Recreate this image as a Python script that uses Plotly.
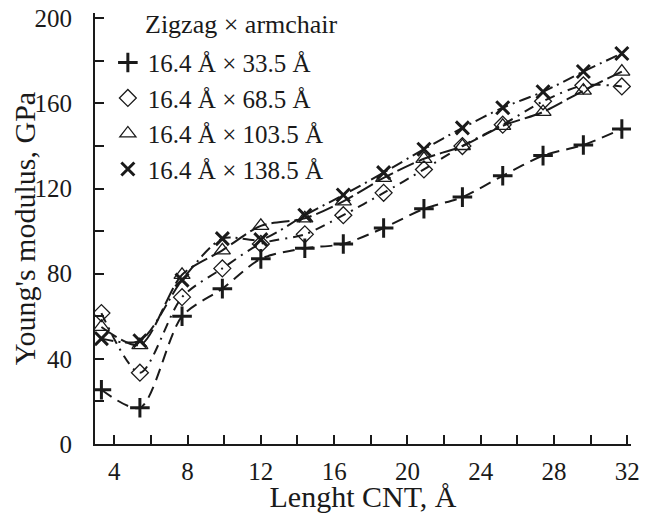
import plotly.graph_objects as go

# Length of CNT, Angstrom
length = [3.3, 5.4, 7.7, 9.9, 12.0, 14.4, 16.5, 18.7, 20.9, 23.0, 25.2, 27.4, 29.6, 31.7]

# Young's modulus, GPa
e_335 = [25.5, 17, 60, 73, 87, 92, 94, 101.5, 110.5, 116, 126, 135.5, 140.5, 148]
e_685 = [61.5, 33.5, 69, 82.5, 94, 98.5, 107.5, 118, 129, 140, 150, 161, 168.5, 168]
e_1035 = [55, 46.5, 79.5, 91, 102.5, 106, 114, 125, 134, 140, 149.5, 156, 166, 175]
e_1385 = [49.5, 48.5, 77, 96.5, 96, 107.5, 117, 127.5, 138.5, 148.5, 158, 165.5, 175, 183.5]

names = ["16.4 Å × 33.5 Å", "16.4 Å × 68.5 Å", "16.4 Å × 103.5 Å", "16.4 Å × 138.5 Å"]

x_ticks = [4, 8, 12, 16, 20, 24, 28, 32]
y_ticks = [0, 40, 80, 120, 160, 200]

FONT = "Liberation Serif, Times New Roman, serif"
INK = "#1a1a1a"
FS = 25

styles = [
    # symbol, size, marker line width, dash
    ("cross-thin", 14, 3, "12px,7px"),
    ("diamond-open", 13, 1.3, "10px,6px,2px,6px"),
    ("triangle-up-open", 14, 1.3, "18px,5px"),
    ("x-thin", 13, 3, "12px,5px,2px,5px"),
]

fig = go.Figure()
for i, (vals, name, st) in enumerate(zip([e_335, e_685, e_1035, e_1385], names, styles)):
    sym, size, lw, dash = st
    marker = dict(symbol=sym, size=size, color=INK, line=dict(color=INK, width=lw))
    fig.add_trace(go.Scatter(
        x=length, y=vals, name=name, mode="lines+markers",
        line=dict(color=INK, width=2, dash=dash, shape="spline", smoothing=0.8),
        marker=marker, showlegend=False,
    ))
    # legend entry shows the marker only
    fig.add_trace(go.Scatter(
        x=[None], y=[None], name=name, mode="markers",
        legendgroup=f"g{i}", marker=marker,
    ))

fig.add_annotation(
    text="Zigzag × armchair", xref="paper", yref="paper",
    x=0.09, y=0.973, xanchor="left", yanchor="middle",
    showarrow=False, font=dict(family=FONT, size=26, color=INK),
)

axis_common = dict(
    showline=True, linecolor=INK, linewidth=2, mirror=False,
    ticks="inside", ticklen=9, tickwidth=1.5, tickcolor=INK,
    showgrid=False, zeroline=False, automargin=False,
    ticklabeloverflow="allow",
    tickfont=dict(family=FONT, size=FS, color=INK),
)

# the page body adds an 8px offset, so the figure is 8px smaller
fig.update_layout(
    width=645, height=505,
    margin=dict(l=87, r=22, t=5, b=69),
    paper_bgcolor="white", plot_bgcolor="white",
    font=dict(family=FONT, size=FS, color=INK),
    xaxis=dict(
        range=[2.95, 32.2], tickvals=x_ticks, ticklabelstandoff=4,
        minor=dict(dtick=2, tick0=0, ticks="inside", ticklen=9, tickcolor=INK, tickwidth=1.5),
        title=dict(text="Lenght CNT, Å"),
        **axis_common,
    ),
    yaxis=dict(
        range=[0, 202.5], tickvals=y_ticks, ticklabelstandoff=16,
        minor=dict(dtick=20, tick0=0, ticks="inside", ticklen=9, tickcolor=INK, tickwidth=1.5),
        # trailing no-break spaces nudge the title down a little
        title=dict(text="Young's modulus, GPa" + "\u00a0" * 5),
        **axis_common,
    ),
    legend=dict(
        x=0.024, y=0.938, xanchor="left", yanchor="top",
        bgcolor="rgba(0,0,0,0)", tracegroupgap=0,
        font=dict(family=FONT, size=FS, color=INK),
    ),
)

fig.write_html("out.html")
